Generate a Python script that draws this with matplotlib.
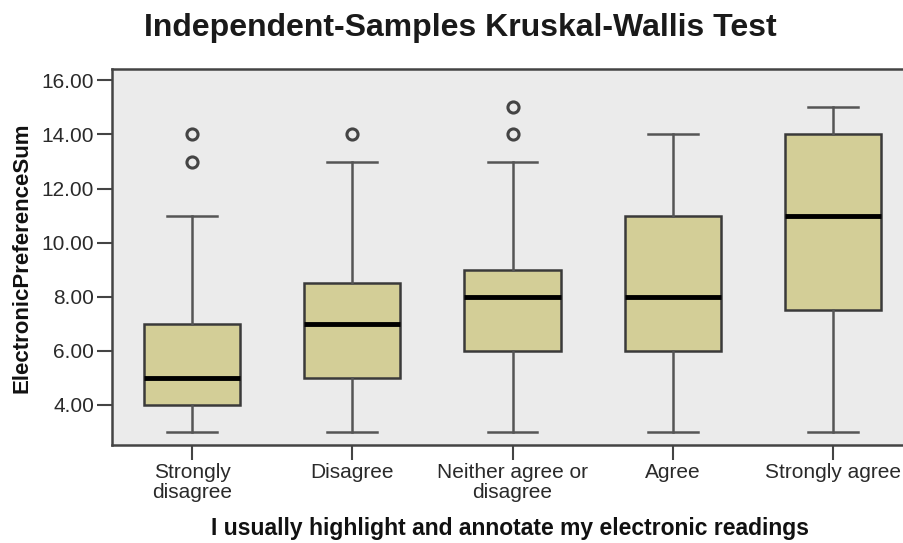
import matplotlib
matplotlib.use("Agg")
import matplotlib.pyplot as plt

categories = ["Strongly\ndisagree", "Disagree", "Neither agree or\ndisagree", "Agree", "Strongly agree"]
whislo = [3, 3, 3, 3, 3]
q1 = [4, 5, 6, 6, 7.5]
med = [5, 7, 8, 8, 11]
q3 = [7, 8.5, 9, 11, 14]
whishi = [11, 13, 13, 14, 15]
outliers = [[13, 14], [14], [14, 15], [], []]
yticks = [4, 6, 8, 10, 12, 14, 16]

plt.rcParams['font.family'] = ['Liberation Sans', 'DejaVu Sans']

fig = plt.figure(figsize=(9.04, 5.43), dpi=100)
ax = fig.add_axes([112/904, 1-445/543, (913-112)/904, (445-69)/543])
ax.set_facecolor('#EBEBEB')

stats = []
for i in range(len(categories)):
    stats.append(dict(whislo=whislo[i], q1=q1[i], med=med[i], q3=q3[i],
                      whishi=whishi[i], fliers=outliers[i], label=categories[i]))

ax.bxp(stats, positions=range(1, 6), widths=0.6, patch_artist=True,
       boxprops=dict(facecolor='#D3CE97', edgecolor='#3a3a3a', linewidth=1.8),
       medianprops=dict(color='black', linewidth=3.5),
       whiskerprops=dict(color='#555555', linewidth=1.8),
       capprops=dict(color='#555555', linewidth=1.8),
       capwidths=0.31,
       flierprops=dict(marker='o', markerfacecolor='none', markeredgecolor='#444444',
                       markersize=8, markeredgewidth=2.2))

ax.set_xlim(0.5, 5.5)
ax.set_ylim(2.52, 16.42)
ax.set_yticks(yticks)
ax.set_yticklabels([f"{v:.2f}" for v in yticks])
ax.tick_params(axis='both', direction='out', length=11, width=1.5, color='#444444',
               labelsize=15, labelcolor='#2a2a2a')
ax.tick_params(axis='x', pad=2)
ax.tick_params(axis='y', pad=2)
for lbl in ax.get_xticklabels():
    lbl.set_linespacing(1.05)

for s in ax.spines.values():
    s.set_color('#444444')
    s.set_linewidth(1.8)

fig.text(22/904, 1-258/543, 'ElectronicPreferenceSum', rotation=90, ha='center', va='center',
         fontsize=16, fontweight='bold', color='#111111')
fig.text(510/904, 1-528/543, 'I usually highlight and annotate my electronic readings',
         ha='center', va='center', fontsize=16.5, fontweight='bold', color='#111111')
fig.text(460/904, 1-28/543, 'Independent-Samples Kruskal-Wallis Test', ha='center', va='center',
         fontsize=23, fontweight='bold', color='#1a1a1a')

fig.savefig('out.png', dpi=100)
